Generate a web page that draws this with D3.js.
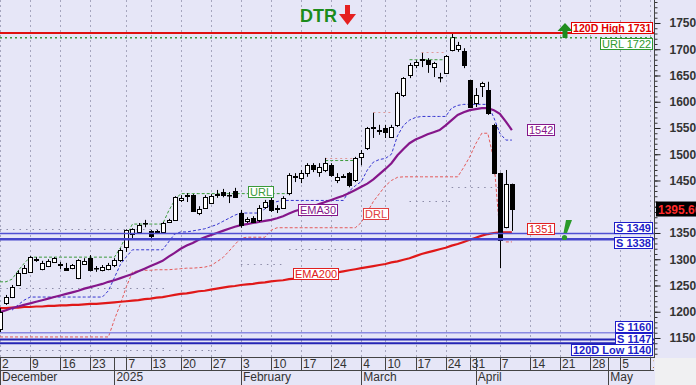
<!DOCTYPE html>
<html>
<head>
<meta charset="utf-8">
<script src="https://cdn.jsdelivr.net/npm/d3@7"></script>
<style>
  body { margin: 0; background: #fff; }
  svg { display: block; }
  text { font-family: "Liberation Sans", Arial, sans-serif; }
</style>
</head>
<body>
<div id="viz"></div>
<script>
// daily candles, index 0 = 2 Dec
const opens = [1168,1217,1228,1252,1274,1276,1300,1281,1287,1295,
  1291,1283,1283,1264,1291,1302,1283,1279,1281,1289,
  1297,1323,1348,1352,1369,1354,1351,1352,1371,1375,
  1413,1421,1422,1388,1398,1407,1423,1428,1422,1430,
  1388,1373,1378,1375,1399,1413,1397,1398,1426,1457,
  1455,1464,1479,1466,1470,1479,1451,1458,1464,1451,
  1495,1512,1551,1546,1550,1533,1556,1613,1651,1670,
  1680,1679,1666,1647,1655,1698,1700,1697,1641,1598,
  1630,1622,1556,1464,1361,1443];
const highs = [1207,1232,1251,1279,1289,1306,1304,1297,1300,1304,
  1295,1293,1291,1300,1302,1308,1287,1289,1293,1302,
  1321,1357,1359,1369,1375,1356,1356,1371,1377,1420,
  1422,1426,1424,1401,1422,1424,1432,1434,1428,1436,
  1394,1380,1382,1403,1413,1417,1403,1420,1464,1464,
  1470,1483,1483,1483,1493,1483,1464,1462,1466,1495,
  1508,1552,1579,1556,1556,1556,1619,1647,1674,1679,
  1693,1683,1676,1655,1689,1731,1714,1702,1642,1626,
  1638,1638,1558,1465,1470,1444];
const lows = [1160,1213,1226,1250,1272,1274,1295,1279,1285,1293,
  1281,1279,1281,1262,1289,1277,1276,1277,1279,1285,
  1295,1314,1340,1350,1361,1340,1348,1350,1369,1373,
  1409,1409,1390,1384,1396,1405,1417,1418,1407,1417,
  1360,1369,1369,1371,1396,1390,1388,1396,1422,1447,
  1445,1457,1466,1457,1466,1457,1445,1455,1437,1447,
  1479,1508,1531,1537,1531,1531,1552,1609,1645,1664,
  1666,1655,1647,1637,1653,1696,1695,1664,1588,1590,
  1609,1575,1462,1283,1359,1354];
const closes = [1200,1229,1247,1274,1283,1304,1301,1293,1297,1302,
  1290,1279,1289,1298,1297,1279,1283,1285,1289,1298,
  1317,1356,1357,1365,1369,1344,1353,1369,1375,1418,
  1417,1422,1392,1396,1418,1420,1424,1422,1422,1418,
  1365,1376,1371,1398,1409,1394,1398,1417,1460,1458,
  1464,1479,1472,1476,1483,1460,1457,1459,1441,1493,
  1502,1550,1552,1547,1542,1552,1617,1645,1670,1676,
  1681,1672,1674,1647,1687,1723,1708,1670,1590,1613,
  1636,1579,1464,1337,1443,1396];

const ema30 = [1199,1203,1207,1210,1213,1216,1219,1222,1225,1228,
  1231,1234,1237,1240,1244,1247,1250,1253,1257,1260,
  1264,1268,1272,1277,1282,1287,1292,1297,1305,1312,
  1320,1326,1331,1337,1342,1346,1350,1354,1358,1362,
  1365,1367,1369,1371,1373,1375,1378,1382,1387,1392,
  1395,1398,1401,1405,1409,1413,1417,1421,1426,1432,
  1438,1444,1452,1462,1472,1483,1498,1510,1521,1528,
  1533,1538,1542,1546,1555,1565,1575,1580,1584,1586,
  1588,1588,1584,1577,1562,1546];
const ema200 = [1207,1207,1208,1208,1209,1209,1210,1210,1211,1211,
  1212,1212,1213,1213,1214,1215,1215,1216,1217,1218,
  1219,1220,1221,1222,1224,1225,1227,1228,1230,1232,
  1234,1235,1237,1239,1240,1242,1244,1246,1248,1249,
  1251,1252,1253,1255,1256,1258,1259,1260,1262,1263,
  1265,1267,1268,1270,1272,1274,1275,1277,1279,1281,
  1283,1285,1287,1289,1291,1294,1296,1299,1302,1306,
  1310,1313,1316,1319,1322,1326,1329,1333,1337,1341,
  1345,1348,1350,1351,1351,1351];
// blue dashed trailing line
const stopLine = [null,null,1203,1213,1222,1228,1228,1228,1228,1228,
  1228,1228,1228,1228,1228,1228,1228,1228,1240,1265,
  1290,1305,1318,1318,1318,1318,1318,1318,1333,1348,
  1352,1352,1354,1356,1358,1362,1366,1372,1378,1384,
  1388,1388,1388,1388,1396,1405,1410,1412,1412,1412,
  1412,1412,1412,1412,1412,1412,1412,1412,1430,1440,
  1448,1470,1485,1490,1492,1500,1535,1555,1565,1570,
  1572,1572,1572,1572,1572,1588,1593,1595,1595,1595,
  1595,1595,1570,1540,1527,1527];
const drlLine = [1152,1152,1152,1152,1152,1152,1152,1152,1152,1152,
  1152,1152,1152,1152,1152,1152,1152,1152,1152,1185,
  1215,1248,1276,1278,1279,1279,1280,1280,1280,1281,
  1282,1283,1283,1284,1285,1288,1295,1303,1315,1328,
  1340,1342,1342,1342,1342,1355,1360,1360,1360,1360,
  1360,1360,1360,1360,1360,1360,1360,1360,1360,1360,
  1370,1390,1410,1425,1440,1450,1456,1457,1457,1457,
  1457,1457,1457,1457,1457,1457,1457,1475,1495,1520,
  1540,1540,1490,1350,1333,1333];
const urlLine = [1257,1257,1262,1278,1292,1304,1304,1304,1304,1304,
  1304,1304,1304,1304,1304,1304,1304,1304,1304,1304,
  1322,1346,1367,1367,1367,1367,1367,1367,1392,1412,
  1425,1425,1425,1425,1425,1425,1425,1425,1425,1425,
  1425,1425,1425,1425,1425,1425,1425,1425,1425,null,
  null,null,null,null,1488,1488,1488,1488,1488,1488,
  null,null,null,null,null,null,null,null,1680,1680,
  1680,1680,1680,1680,1680,null,null,null,null,null,
  null,null,null,null,null,null];
// [from index, to index, price]
const grayDots = [[0,28,1245],[0,27,1358],[0,36,1127],[40,47,1291],[48,60,1320],[68,75,1410],[75,83,1438]];
const pinkDots = [[54,59,1493],[62,65,1580],[70,74,1695]];

const levelValues = [1731, 1722, 1349, 1338, 1160, 1147, 1140];
const levelLabels = ["120D High 1731", "URL 1722", "S 1349", "S 1338", "S 1160", "S 1147", "120D Low 1140"];

const priceTicks = [1150,1200,1250,1300,1350,1400,1450,1500,1550,1600,1650,1700,1750];
const dayTickIdx = [0,5,10,15,21,25,30,35,40,45,50,55,60,64,69,74,78,83,88,93,98,103,108];
const dayTickLabels = ["2","9","16","23","7","13","20","27","3","10","17","24","4","10","17","24","31","7","14","21","28","5","12"];
const monthIdx = [0,19,40,60,79,101];
const monthLabels = ["December","2025","February","March","April","May"];
const lastPrice = 1395.66;

// ---- layout ----
const width = 696, height = 385;
const plotW = 654, plotH = 357;
const crisp = v => Math.round(v) + 0.5;

const svg = d3.select("#viz").append("svg")
    .attr("width", width)
    .attr("height", height);

const x = d3.scaleLinear().domain([0, 108.6]).range([0, plotW]);
const y = d3.scaleLinear().domain([1113.8, 1793.8]).range([plotH, 0]);

svg.append("rect").attr("width", width).attr("height", height).attr("fill", "#E6E6F7");
svg.append("rect").attr("x", plotW + 1).attr("y", plotH + 1)
    .attr("width", width - plotW).attr("height", height - plotH).attr("fill", "#F0F0F2");

svg.append("defs").append("clipPath").attr("id", "plotClip")
    .append("rect").attr("width", plotW).attr("height", plotH);

const plot = svg.append("g").attr("clip-path", "url(#plotClip)");

// vertical grid
plot.selectAll(".vgrid").data(dayTickIdx).join("line")
    .attr("x1", d => crisp(x(d))).attr("x2", d => crisp(x(d)))
    .attr("y1", 0).attr("y2", plotH)
    .attr("stroke", "#A6A6BE").attr("stroke-dasharray", "2,3");

// dotted reference segments
plot.selectAll(".gdot").data(grayDots).join("line")
    .attr("x1", d => x(d[0])).attr("x2", d => x(d[1]))
    .attr("y1", d => crisp(y(d[2]))).attr("y2", d => crisp(y(d[2])))
    .attr("stroke", "#8C8CA8").attr("stroke-dasharray", "1.5,5");
plot.selectAll(".pdot").data(pinkDots).join("line")
    .attr("x1", d => x(d[0])).attr("x2", d => x(d[1]))
    .attr("y1", d => crisp(y(d[2]))).attr("y2", d => crisp(y(d[2])))
    .attr("stroke", "#E09A9A").attr("stroke-dasharray", "2,3");

const line = d3.line()
    .defined(d => d != null)
    .x((d, i) => x(i))
    .y(d => y(d));

plot.append("path").datum(urlLine).attr("d", line)
    .attr("fill", "none").attr("stroke", "#3A9A3A").attr("stroke-dasharray", "3,2");
plot.append("path").datum(stopLine).attr("d", line)
    .attr("fill", "none").attr("stroke", "#3535D0").attr("stroke-dasharray", "3,2");
plot.append("path").datum(drlLine).attr("d", line)
    .attr("fill", "none").attr("stroke", "#E45A5A").attr("stroke-dasharray", "3,2");
plot.append("path").datum(ema200).attr("d", line)
    .attr("fill", "none").attr("stroke", "#E01818").attr("stroke-width", 2.2);
plot.append("path").datum(ema30).attr("d", line)
    .attr("fill", "none").attr("stroke", "#85168A").attr("stroke-width", 2.2);

// candles
const candles = plot.selectAll(".candle").data(opens).join("g").attr("class", "candle");
candles.append("line")
    .attr("x1", (d, i) => crisp(x(i))).attr("x2", (d, i) => crisp(x(i)))
    .attr("y1", (d, i) => y(highs[i])).attr("y2", (d, i) => y(lows[i]))
    .attr("stroke", "#000");
candles.append("rect")
    .attr("x", (d, i) => Math.round(x(i)) - 1.5)
    .attr("width", 4)
    .attr("y", (d, i) => Math.round(y(Math.max(opens[i], closes[i]))) + 0.5)
    .attr("height", (d, i) => Math.max(0.5, Math.round(Math.abs(y(opens[i]) - y(closes[i])))))
    .attr("fill", (d, i) => closes[i] >= opens[i] ? "#fff" : "#000")
    .attr("stroke", "#000");

// horizontal levels
const levelColor = ["#E01010", "#3A9A3A", "#5050D2", "#4646CC", "#8A8AE2", "#2424B4", "#2424B4"];
const levelWidth = [2, 1.5, 1.5, 2.5, 1.5, 2, 2];
plot.selectAll(".level").data(levelValues).join("line")
    .attr("x1", 0).attr("x2", plotW)
    .attr("y1", d => y(d)).attr("y2", d => y(d))
    .attr("stroke", (d, i) => levelColor[i])
    .attr("stroke-width", (d, i) => levelWidth[i])
    .attr("stroke-dasharray", (d, i) => i === 1 ? "2,3" : null);

function tag(o) {
    const g = svg.append("g");
    const r = g.append("rect");
    const t = g.append("text").text(o.text)
        .attr("font-size", o.size)
        .attr("font-weight", o.weight || "normal")
        .attr("fill", o.color);
    const w = Math.round(t.node().getComputedTextLength() + 3);
    const h = 11;
    const left = Math.round(o.align === "end" ? o.x - w : o.x);
    const top = Math.round(o.y);
    r.attr("x", left + 0.5).attr("y", top + 0.5).attr("width", w).attr("height", h)
        .attr("fill", "#fff").attr("stroke", o.color);
    t.attr("x", left + 2).attr("y", top + 10);
}

const levelTextColor = ["#E00000", "#2E9A2E", "#1E1EC8", "#1E1EC8", "#1E1EC8", "#1E1EC8", "#1E1EC8"];
const levelBold = ["bold", "normal", "bold", "bold", "bold", "bold", "bold"];
const levelSize = [10.6, 11, 11, 11, 11, 11, 11];
const levelShift = [-11, 0, -12, -2, -12, -7, 0.5];
levelValues.forEach((v, i) => {
    tag({text: levelLabels[i], x: 652, y: y(v) + levelShift[i], align: "end",
         color: levelTextColor[i], size: levelSize[i], weight: levelBold[i]});
});

// series labels
tag({text: "URL", x: x(41.2), y: y(1429) - 6, color: "#3A9A3A", size: 11});
tag({text: "EMA30", x: x(49.5), y: y(1394) - 6, color: "#85168A", size: 11});
tag({text: "DRL", x: x(60.3), y: y(1386) - 6, color: "#E04040", size: 11});
tag({text: "EMA200", x: x(48.7), y: y(1272) - 6, color: "#E02020", size: 11});
tag({text: "1542", x: x(87.5), y: y(1546) - 6, color: "#85168A", size: 11});
tag({text: String(ema200[ema200.length - 1]), x: x(87.5), y: y(1357) - 6, color: "#E02020", size: 11});

// DTR marker
svg.append("text").attr("x", 300).attr("y", 22)
    .attr("font-size", 18).attr("font-weight", "bold").attr("fill", "#1C8C1C").text("DTR");
svg.append("rect").attr("x", 345).attr("y", 5).attr("width", 5).attr("height", 10).attr("fill", "#E52020");
svg.append("path").attr("d", "M339,14 L356,14 L347.5,25 Z").attr("fill", "#E52020");

// green up arrow by the 120D high tag
svg.append("path").attr("d", "M557.5,31 L572.5,31 L565,23 Z").attr("fill", "#1E8C1E");
svg.append("rect").attr("x", 562.5).attr("y", 30).attr("width", 5).attr("height", 8).attr("fill", "#1E8C1E");

// exclamation mark next to the support lines
svg.append("path").attr("d", "M566,220 L572,220 L567,233 L563.5,233 Z").attr("fill", "#2A9A2A");
svg.append("circle").attr("cx", 564.5).attr("cy", 237.5).attr("r", 2.6).attr("fill", "#2A9A2A");

// right axis
const axisFont = "'Liberation Sans Narrow', 'Arial Narrow', 'Liberation Sans', Arial, sans-serif";
const minorTicks = d3.range(1120, 1791, 10);
svg.append("g").attr("transform", "translate(" + (plotW + 0.5) + ",0)")
    .call(d3.axisRight(y).tickValues(minorTicks).tickSize(3).tickFormat(""))
    .call(g => g.select(".domain").remove())
    .selectAll("line").attr("stroke", "#333");
const yAxis = svg.append("g").attr("transform", "translate(" + (plotW + 0.5) + ",0)")
    .call(d3.axisRight(y).tickValues(priceTicks).tickSize(6).tickPadding(9).tickFormat(d3.format("d")));
yAxis.select(".domain").remove();
yAxis.selectAll("line").attr("stroke", "#222");
yAxis.selectAll("text")
    .attr("font-family", axisFont).attr("font-size", 12).attr("font-weight", "bold").attr("fill", "#333")
    .attr("opacity", d => Math.abs(y(d) - y(lastPrice)) < 10 ? 0 : 1);
svg.append("line").attr("x1", plotW + 0.5).attr("x2", plotW + 0.5).attr("y1", 0).attr("y2", plotH + 1)
    .attr("stroke", "#444");

// last price tag
svg.append("rect").attr("x", 656).attr("y", y(lastPrice) - 7.5).attr("width", 42).attr("height", 15).attr("fill", "#000");
svg.append("text").attr("x", 658).attr("y", y(lastPrice) + 4.5)
    .attr("font-size", 12).attr("font-weight", "bold").attr("fill", "#FF2A2A")
    .text(lastPrice.toFixed(2));

// bottom axis
const xAxis = svg.append("g").attr("clip-path", "url(#axisClip)");
svg.select("defs").append("clipPath").attr("id", "axisClip")
    .append("rect").attr("y", plotH).attr("width", plotW).attr("height", height - plotH);
xAxis.append("line").attr("x1", 0).attr("x2", plotW).attr("y1", plotH + 0.5).attr("y2", plotH + 0.5).attr("stroke", "#444");
xAxis.append("line").attr("x1", 0).attr("x2", plotW).attr("y1", 370.5).attr("y2", 370.5).attr("stroke", "#444");
xAxis.selectAll(".dtick").data(dayTickIdx).join("line")
    .attr("x1", d => crisp(x(d))).attr("x2", d => crisp(x(d)))
    .attr("y1", plotH).attr("y2", 370).attr("stroke", "#444");
xAxis.selectAll(".dlab").data(dayTickIdx).join("text")
    .attr("x", d => x(d) + 2).attr("y", 367.5)
    .attr("font-family", axisFont).attr("font-size", 12).attr("fill", "#333")
    .text((d, i) => dayTickLabels[i]);
xAxis.selectAll(".mtick").data(monthIdx).join("line")
    .attr("x1", d => crisp(x(d))).attr("x2", d => crisp(x(d)))
    .attr("y1", plotH).attr("y2", height).attr("stroke", "#444");
xAxis.selectAll(".mlab").data(monthIdx).join("text")
    .attr("x", d => x(d) + 2).attr("y", 381)
    .attr("font-family", axisFont).attr("font-size", 12).attr("fill", "#333")
    .text((d, i) => monthLabels[i]);
</script>
</body>
</html>
